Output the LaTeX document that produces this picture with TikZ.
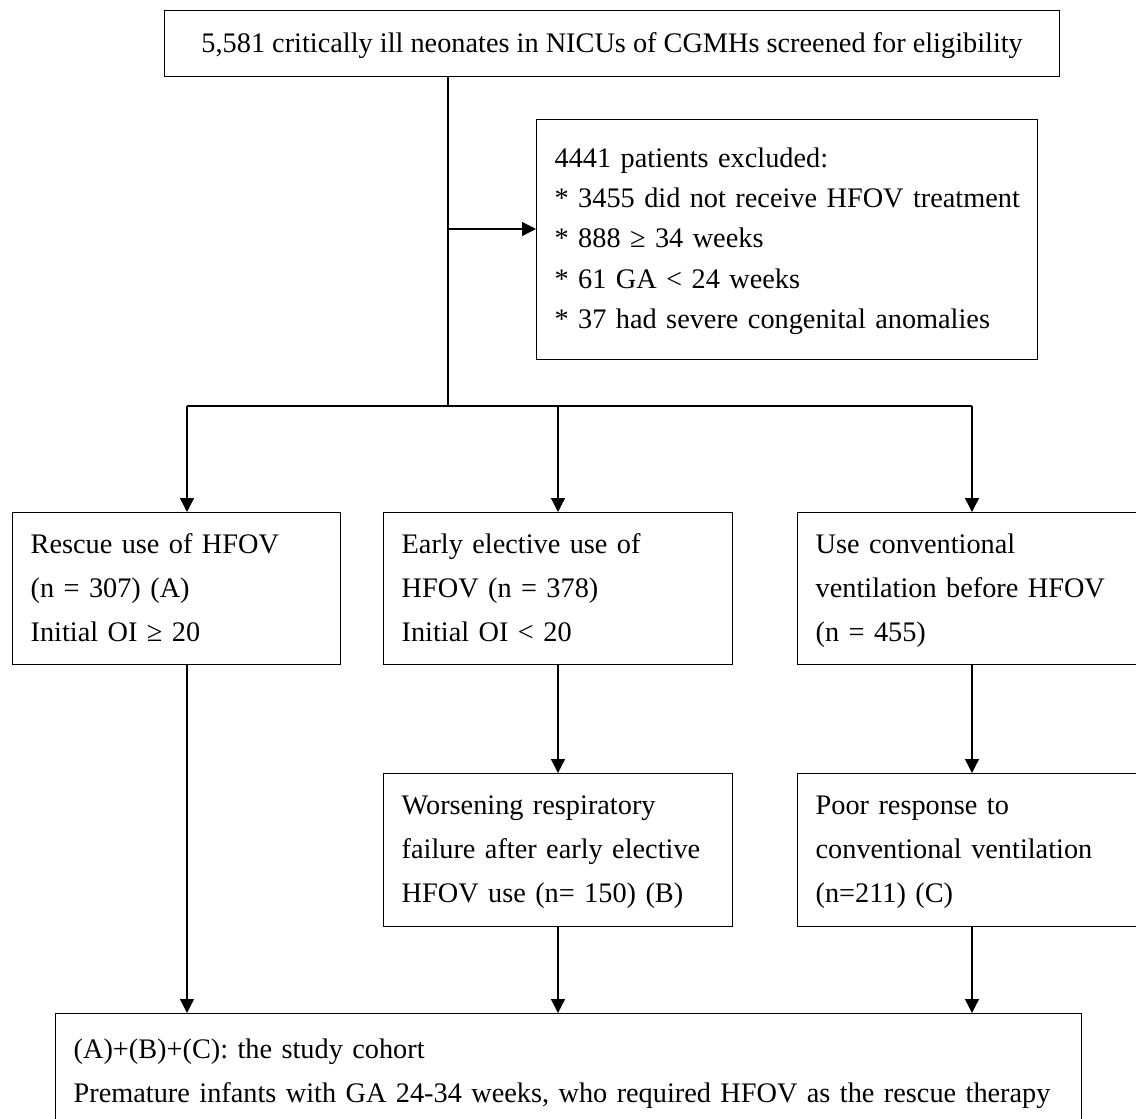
\documentclass[tikz,border=0pt]{standalone}
\usepackage{fontspec}
\setmainfont{Liberation Serif}
\usetikzlibrary{arrows.meta}
\begin{document}
\begin{tikzpicture}[x=1pt,y=-1pt,
    box/.style={rectangle, draw, line width=1.3pt, inner xsep=18pt, inner ysep=0pt, anchor=north west, align=left, font=\fontsize{28.3}{44}\selectfont, execute at begin node=\strut, execute at end node=\strut},
    link/.style={line width=1.3pt},
    flow/.style={line width=1.3pt, -{Triangle[length=14pt,width=14pt]}}]
  \useasboundingbox (0,0) rectangle (1136,1119);

  \node[box, align=center, minimum width=895pt, minimum height=66pt] (screened) at (164,10) {5,581 critically ill neonates in NICUs of CGMHs screened for eligibility};
  \node[box, text width=465pt, minimum height=240pt, font=\fontsize{28.3}{40.3}\selectfont] (excluded) at (536,119) {4441 patients excluded:\\\mbox{* 3455 did not receive HFOV treatment}\\{}* 888 ≥ 34 weeks\\{}* 61 GA < 24 weeks\\{}* 37 had severe congenital anomalies};

  \node[box, text width=292pt, minimum height=152pt] (rescue) at (12,512) {Rescue use of HFOV\\(n = 307) (A)\\Initial OI ≥ 20};
  \node[box, text width=313pt, minimum height=152pt] (early) at (383,512) {Early elective use of\\HFOV (n = 378)\\Initial OI < 20};
  \node[box, text width=313pt, minimum height=152pt] (conv) at (797,512) {Use conventional\\ventilation before HFOV\\(n = 455)};

  \node[box, text width=313pt, minimum height=153pt] (worse) at (383,773) {Worsening respiratory\\failure after early elective\\HFOV use (n= 150) (B)};
  \node[box, text width=313pt, minimum height=153pt] (poor) at (797,773) {Poor response to\\conventional ventilation\\(n=211) (C)};

  \node[box, text width=990pt, minimum height=116pt] (cohort) at (55,1013) {(A)+(B)+(C): the study cohort\\Premature infants with GA 24-34 weeks, who required HFOV as the rescue therapy};

  % trunk and branches
  \coordinate (split) at (448,406);
  \coordinate (tee) at (448,229);
  \coordinate (colA) at (187,406);
  \coordinate (colB) at (558,406);
  \coordinate (colC) at (972,406);

  \draw[link] (screened.south -| split) -- (split);
  \draw[flow] (tee) -- (tee -| excluded.west);
  \draw[link] (colA) -- (colC);
  \draw[flow] (colA) -- (colA |- rescue.north);
  \draw[flow] (colB) -- (colB |- early.north);
  \draw[flow] (colC) -- (colC |- conv.north);

  \draw[flow] (colB |- early.south) -- (colB |- worse.north);
  \draw[flow] (colC |- conv.south) -- (colC |- poor.north);

  \draw[flow] (colA |- rescue.south) -- (colA |- cohort.north);
  \draw[flow] (colB |- worse.south) -- (colB |- cohort.north);
  \draw[flow] (colC |- poor.south) -- (colC |- cohort.north);
\end{tikzpicture}
\end{document}
